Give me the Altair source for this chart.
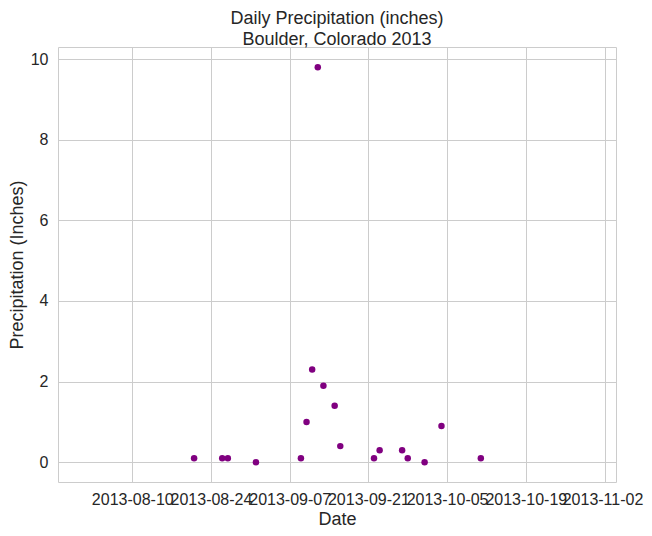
import altair as alt
import pandas as pd

dates = ["2013-08-21", "2013-08-26", "2013-08-27", "2013-09-01", "2013-09-09",
         "2013-09-10", "2013-09-11", "2013-09-12", "2013-09-13", "2013-09-15",
         "2013-09-16", "2013-09-22", "2013-09-23", "2013-09-27", "2013-09-28",
         "2013-10-01", "2013-10-04", "2013-10-11"]
precip = [0.1, 0.1, 0.1, 0.0, 0.1, 1.0, 2.3, 9.8, 1.9, 1.4, 0.4, 0.1, 0.3, 0.3,
          0.1, 0.0, 0.9, 0.1]
tick_dates = [(2013, 8, 10), (2013, 8, 24), (2013, 9, 7), (2013, 9, 21),
              (2013, 10, 5), (2013, 10, 19), (2013, 11, 2)]
y_ticks = [0, 2, 4, 6, 8, 10]

df = pd.DataFrame({"date": [d + "T00:00:00" for d in dates], "precip": precip})

FONT = "Liberation Sans"
TXT = "#262626"
GRID = "#cccccc"

x_vals = [alt.DateTime(year=y, month=m, date=d) for (y, m, d) in tick_dates]

chart = alt.Chart(df).mark_circle(size=42, color="#800080", opacity=1).encode(
    x=alt.X("date:T", title="Date",
            scale=alt.Scale(domain=[alt.DateTime(year=2013, month=7, date=27, hours=19),
                                    alt.DateTime(year=2013, month=11, date=4, hours=1)]),
            axis=alt.Axis(values=x_vals, format="%Y-%m-%d", labelOverlap=False,
                          labelBound=False, labelFlush=False, labelPadding=9.5,
                          labelOffset={"condition": {"test": "datum.value > datetime(2013, 9, 28)",
                                                     "value": -2},
                                       "value": 0},
                          titleY=42.3, titleBaseline="alphabetic")),
    y=alt.Y("precip:Q", title="Precipitation (Inches)",
            scale=alt.Scale(domain=[-0.49, 10.3], nice=False, zero=False),
            axis=alt.Axis(values=y_ticks, format="d", labelPadding=10,
                          titleX=-35.5, titleBaseline="alphabetic")),
).properties(
    width=558, height=435,
    title=alt.TitleParams(["Daily Precipitation (inches)", "Boulder, Colorado 2013"],
                          fontSize=18, font=FONT, color=TXT, fontWeight="normal",
                          anchor="middle", offset=4, dy=6.3, lineHeight=21.8),
    autosize=alt.AutoSizeParams(type="none"),
    padding={"left": 50, "top": 39, "right": 28, "bottom": 46},
).configure_view(
    stroke=GRID, strokeWidth=1
).configure_axis(
    labelFont=FONT, titleFont=FONT, labelFontSize=16, titleFontSize=18,
    labelColor=TXT, titleColor=TXT, titleFontWeight="normal",
    gridColor=GRID, gridWidth=1, gridOpacity=1, domain=False, ticks=False, tickSize=0,
)

chart.save("out.html", embed_options={"renderer": "svg", "actions": False})
